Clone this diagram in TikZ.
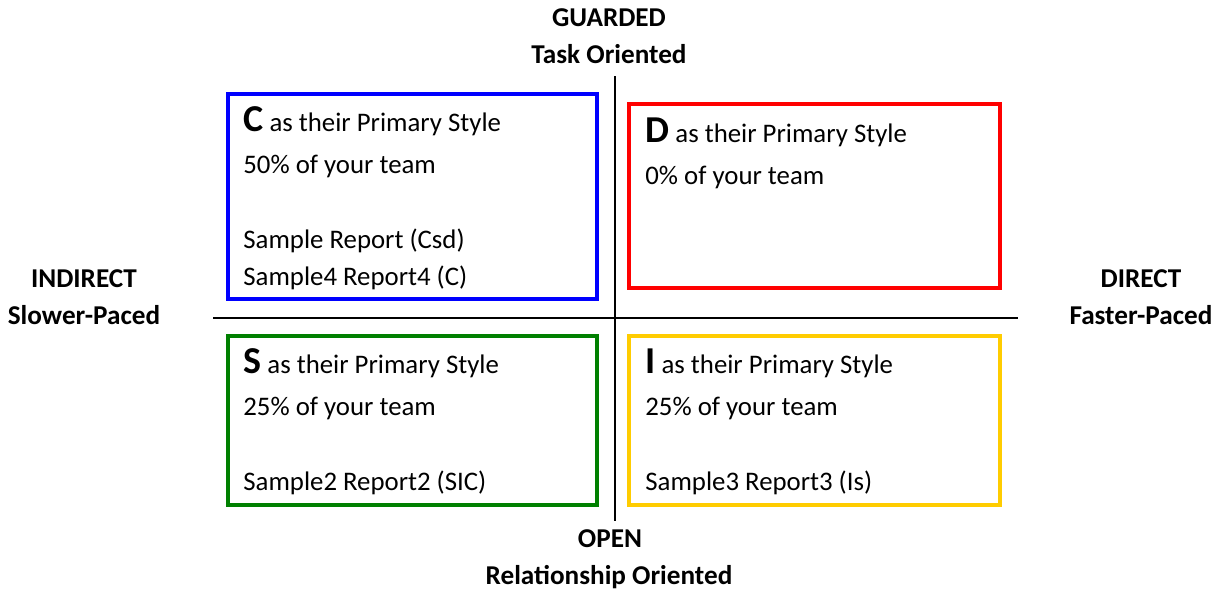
\documentclass[tikz,border=0pt]{standalone}
\usepackage{fontspec}
\setmainfont{Carlito}
\usetikzlibrary{positioning}

\definecolor{cblue}{RGB}{0,0,255}
\definecolor{dred}{RGB}{255,0,0}
\definecolor{sgreen}{RGB}{0,128,0}
\definecolor{iyellow}{RGB}{255,204,0}
\newcommand{\styleletter}[1]{{\fontsize{19pt}{21pt}\selectfont\bfseries #1}}

\tikzset{
 quad/.style={draw, line width=2pt, anchor=north west, inner sep=0pt, outer sep=0pt},
 head/.style={font=\fontsize{13.6pt}{15pt}\selectfont\bfseries, anchor=base, inner sep=0pt},
 txt/.style={font=\fontsize{13.4pt}{15pt}\selectfont, anchor=base west, inner sep=0pt}
}

\begin{document}
\begin{tikzpicture}[x=0.5pt,y=-0.5pt]
 \useasboundingbox (0,0) rectangle (1217,590);
 \coordinate (YS) at (615,76); %縦軸上端
 \coordinate (YL) at (615,521); %縦軸下端
 \coordinate (XS) at (213,318); %横軸左端
 \coordinate (XL) at (1018,318); %横軸右端
 \draw[line width=1pt] (YS)--(YL); %縦軸
 \draw[line width=1pt] (XS)--(XL); %横軸
 % 枠
 \node[quad, cblue, minimum width=184.5pt, minimum height=102.5pt] (boxC) at (228,94) {};
 \node[quad, dred, minimum width=185.5pt, minimum height=92pt] (boxD) at (629,104) {};
 \node[quad, sgreen, minimum width=184.5pt, minimum height=84.5pt] (boxS) at (228,336) {};
 \node[quad, iyellow, minimum width=185.5pt, minimum height=84.5pt] (boxI) at (629,336) {};
 % C
 \node[txt] (c1) at (243,131) {\styleletter{C} as their Primary Style};
 \node[txt] (c2) at (243,173) {50\% of your team};
 \node[txt] (c3) at (243,248) {Sample Report (Csd)};
 \node[txt] (c4) at (243,285) {Sample4 Report4 (C)};
 % D
 \node[txt] (d1) at (645,142) {\styleletter{D} as their Primary Style};
 \node[txt] (d2) at (645,184) {0\% of your team};
 % S
 \node[txt] (s1) at (243,373) {\styleletter{S} as their Primary Style};
 \node[txt] (s2) at (243,415) {25\% of your team};
 \node[txt] (s3) at (243,490) {Sample2 Report2 (SIC)};
 % I
 \node[txt] (i1) at (645,373) {\styleletter{I} as their Primary Style};
 \node[txt] (i2) at (645,415) {25\% of your team};
 \node[txt] (i3) at (645,490) {Sample3 Report3 (Is)};
 % 見出し
 \node[head] (guarded) at (609,26) {GUARDED};
 \node[head] (task) at (609,63) {Task Oriented};
 \node[head] (indirect) at (84,287) {INDIRECT};
 \node[head] (slower) at (84,324) {Slower-Paced};
 \node[head] (direct) at (1141,287) {DIRECT};
 \node[head] (faster) at (1141,324) {Faster-Paced};
 \node[head] (open) at (610,547) {OPEN};
 \node[head] (relation) at (609,584) {Relationship Oriented};
\end{tikzpicture}
\end{document}
